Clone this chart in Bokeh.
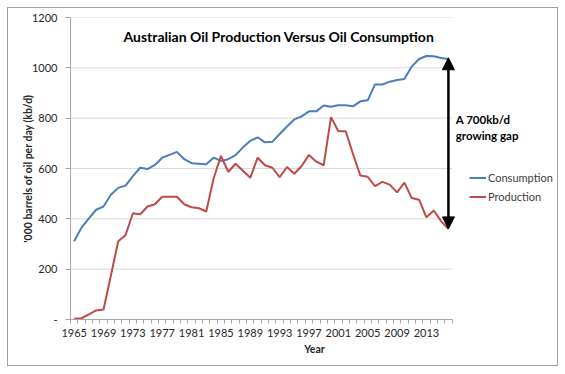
from bokeh.plotting import figure
from bokeh.models import (Range1d, FixedTicker, Legend, LegendItem, Label, Arrow,
                          NormalHead, ColumnDataSource)
from bokeh.embed import file_html
from bokeh.resources import INLINE

years = [1965, 1966, 1967, 1968, 1969, 1970, 1971, 1972, 1973, 1974,
         1975, 1976, 1977, 1978, 1979, 1980, 1981, 1982, 1983, 1984,
         1985, 1986, 1987, 1988, 1989, 1990, 1991, 1992, 1993, 1994,
         1995, 1996, 1997, 1998, 1999, 2000, 2001, 2002, 2003, 2004,
         2005, 2006, 2007, 2008, 2009, 2010, 2011, 2012, 2013, 2014,
         2015, 2016]
consumption = [311, 365, 402, 436, 449, 496, 523, 532, 570, 603,
               598, 614, 643, 654, 666, 637, 621, 619, 617, 643,
               630, 637, 653, 684, 710, 724, 704, 706, 737, 767,
               795, 807, 827, 827, 850, 845, 851, 851, 847, 867,
               871, 934, 934, 945, 952, 956, 1005, 1035, 1047, 1046,
               1039, 1035]
production = [3, 5, 20, 36, 40, 174, 311, 335, 422, 418,
              449, 458, 488, 488, 488, 458, 446, 442, 429, 560,
              650, 587, 619, 591, 563, 643, 613, 603, 566, 606,
              579, 610, 654, 627, 613, 804, 748, 748, 657, 572,
              567, 530, 547, 536, 505, 544, 483, 476, 406, 433,
              391, 359]
year_labels = [1965, 1969, 1973, 1977, 1981, 1985, 1989, 1993, 1997, 2001, 2005, 2009, 2013]
y_ticks = [0, 200, 400, 600, 800, 1000, 1200]

title_text = "Australian Oil Production Versus Oil Consumption"
gap_text_1 = "A 700kb/d"
gap_text_2 = "growing gap"
gap_year = 2016
gap_top = 1040
gap_bottom = 360

FONT = "Lato"
TXT = "#262626"

x_lo = years[0] - 0.5
x_hi = years[-1] + 0.5

src = ColumnDataSource(dict(year=years, cons=consumption, prod=production))
grid_src = ColumnDataSource(dict(y=y_ticks[1:], x0=[x_lo] * (len(y_ticks) - 1),
                                 x1=[x_hi] * (len(y_ticks) - 1)))

p = figure(width=551, height=359, output_backend="svg", toolbar_location=None,
           x_range=Range1d(x_lo, 2031.0), y_range=Range1d(0, 1200),
           min_border_left=62, min_border_right=1, min_border_top=9, min_border_bottom=48)
p.margin = (7, 0, 0, 7)
p.styles = {"border": "1px solid #a0a0a0"}
p.outline_line_color = None
p.background_fill_color = "white"
p.border_fill_color = "white"

# grid (horizontal lines only over the category span)
p.xgrid.grid_line_color = None
p.ygrid.grid_line_color = None
p.segment(x0="x0", x1="x1", y0="y", y1="y", source=grid_src,
          line_color="#d9d9d9", line_width=1, level="underlay")

# y axis
p.yaxis.ticker = FixedTicker(ticks=y_ticks)
p.yaxis.major_label_overrides = {0: "-"}
p.yaxis.axis_line_color = "#a6a6a6"
p.yaxis.major_tick_line_color = "#a6a6a6"
p.yaxis.major_tick_out = 5
p.yaxis.major_tick_in = 0
p.yaxis.minor_tick_line_color = None
p.yaxis.major_label_standoff = 8
p.yaxis.major_label_text_font = FONT
p.yaxis.major_label_text_font_size = "11px"
p.yaxis.major_label_text_color = TXT
p.yaxis.axis_label = "'000 barrels of oil per day (kb/d)"
p.yaxis.axis_label_text_font = FONT
p.yaxis.axis_label_text_font_style = "bold"
p.yaxis.axis_label_text_font_size = "10.5px"
p.yaxis.axis_label_text_color = TXT
p.yaxis.axis_label_standoff = -5

# x axis
p.xaxis.bounds = (x_lo, x_hi)
p.xaxis.ticker = FixedTicker(ticks=year_labels, minor_ticks=[y - 0.5 for y in years] + [x_hi])
p.xaxis.axis_line_color = "#a6a6a6"
p.xaxis.major_tick_line_color = None
p.xaxis.major_tick_out = 0
p.xaxis.major_tick_in = 0
p.xaxis.minor_tick_line_color = "#a6a6a6"
p.xaxis.minor_tick_out = 4
p.xaxis.minor_tick_in = 0
p.xaxis.major_label_standoff = 5
p.xaxis.major_label_text_font = FONT
p.xaxis.major_label_text_font_size = "11px"
p.xaxis.major_label_text_color = TXT
p.xaxis.axis_label = "Year"
p.xaxis.axis_label_text_font = FONT
p.xaxis.axis_label_text_font_style = "bold"
p.xaxis.axis_label_text_font_size = "10.5px"
p.xaxis.axis_label_text_color = TXT
p.xaxis.axis_label_standoff = 3

r_cons = p.line("year", "cons", source=src, line_color="#4a7ebb", line_width=2)
r_prod = p.line("year", "prod", source=src, line_color="#be4b48", line_width=2)

legend = Legend(items=[LegendItem(label="Consumption", renderers=[r_cons]),
                       LegendItem(label="Production", renderers=[r_prod])],
                location=(399, 113))
legend.padding = 0
legend.margin = 0
legend.spacing = 0
legend.label_height = 19
legend.glyph_height = 19
legend.glyph_width = 17
legend.label_standoff = 2
legend.border_line_color = None
legend.background_fill_alpha = 0
legend.label_text_font = FONT
legend.label_text_font_size = "11px"
legend.label_text_color = "#404040"
p.add_layout(legend)

p.add_layout(Label(x=1992.9, y=1126, text=title_text, text_align="center",
                   text_baseline="alphabetic", text_font=FONT, text_font_style="bold",
                   text_font_size="14px", text_color="#000000"))

p.add_layout(Arrow(x_start=gap_year, y_start=gap_bottom, x_end=gap_year, y_end=gap_top,
                   line_color="black", line_width=2.5,
                   start=NormalHead(size=12, fill_color="black", line_color="black"),
                   end=NormalHead(size=12, fill_color="black", line_color="black")))

p.add_layout(Label(x=2017.0, y=793, text=gap_text_1, text_align="left",
                   text_baseline="alphabetic", text_font=FONT, text_font_style="bold",
                   text_font_size="11.5px", text_color="#000000"))
p.add_layout(Label(x=2017.0, y=731, text=gap_text_2, text_align="left",
                   text_baseline="alphabetic", text_font=FONT, text_font_style="bold",
                   text_font_size="11.5px", text_color="#000000"))

open("out.html", "w").write(file_html(p, INLINE))
